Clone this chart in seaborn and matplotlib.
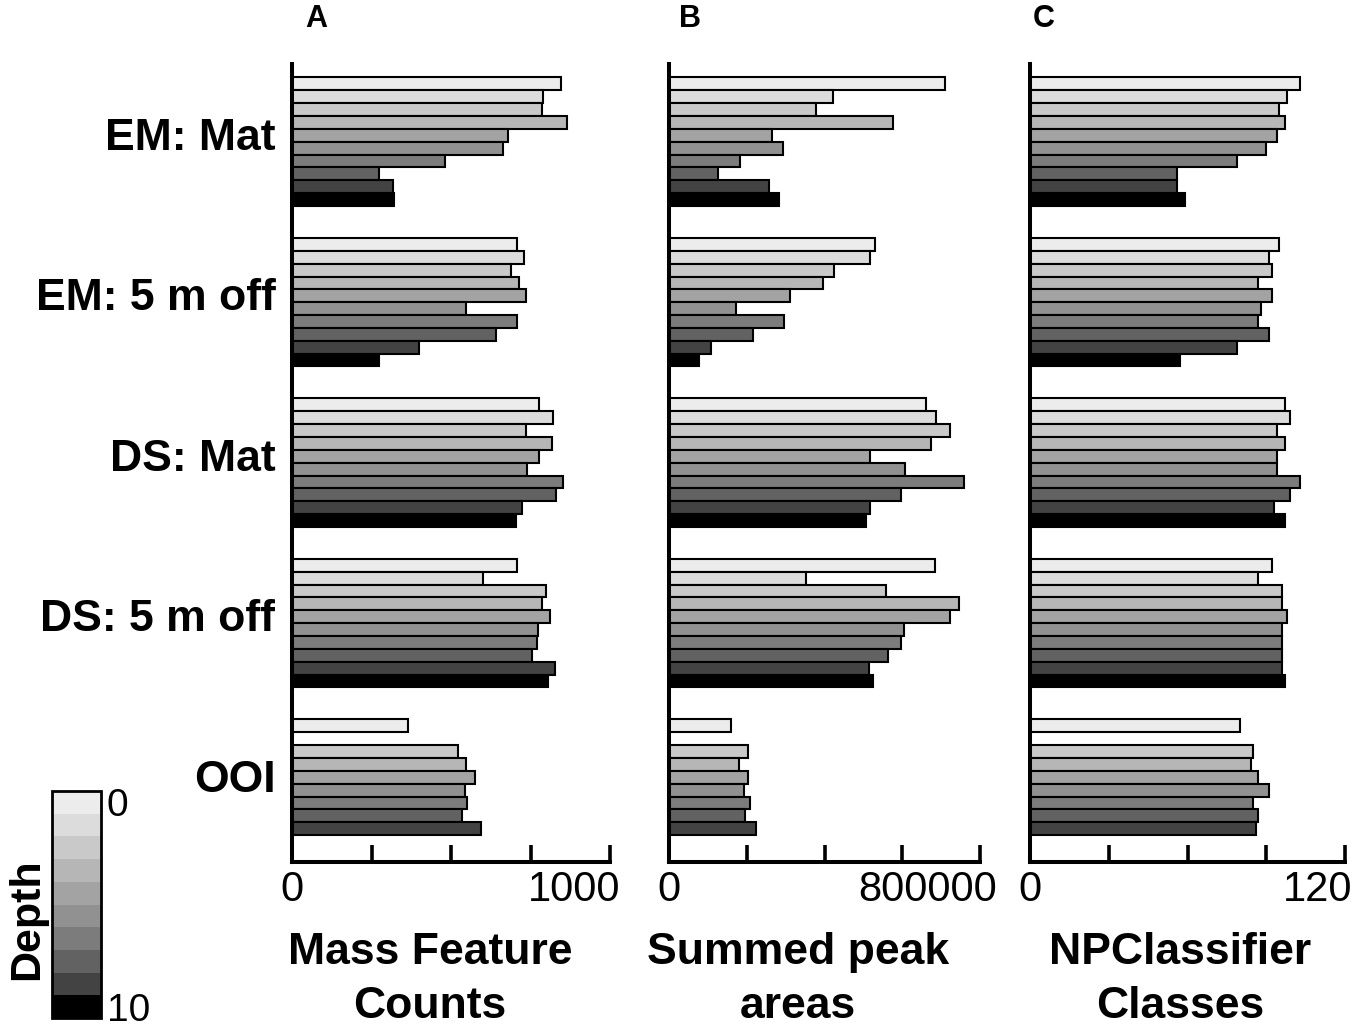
import numpy as np
import pandas as pd
import matplotlib
matplotlib.use("Agg")
import matplotlib.pyplot as plt
import matplotlib.transforms as mtransforms
from matplotlib.colors import ListedColormap, BoundaryNorm
from matplotlib.cm import ScalarMappable
import seaborn as sns

# ---------------- data ----------------
sites = ["EM: Mat", "EM: 5 m off", "DS: Mat", "DS: 5 m off", "OOI"]
depths = [f"d{i}" for i in range(10)]
depth_colors = ["#ececec", "#dcdcdc", "#c9c9c9", "#b6b6b6", "#a3a3a3",
                "#919191", "#7c7c7c", "#626262", "#434343", "#000000"]
nan = np.nan

mass_feature_counts = [
    [846, 790, 785, 865, 679, 664, 481, 274, 319, 322],
    [707, 730, 688, 714, 735, 546, 709, 641, 400, 274],
    [778, 822, 736, 817, 778, 740, 853, 829, 722, 704],
    [707, 602, 799, 785, 811, 775, 769, 756, 827, 806],
    [366, nan, 523, 546, 575, 544, 551, 534, 593, nan],
]
summed_peak_areas = [
    [709000, 421000, 379000, 576000, 266000, 292000, 183000, 125000, 256000, 282000],
    [529000, 516000, 424000, 396000, 312000, 173000, 295000, 217000, 108000, 78000],
    [660000, 688000, 723000, 675000, 518000, 608000, 759000, 597000, 516000, 507000],
    [684000, 353000, 559000, 746000, 724000, 604000, 596000, 563000, 514000, 524000],
    [160000, nan, 203000, 181000, 202000, 192000, 209000, 196000, 224000, nan],
]
npclassifier_classes = [
    [103, 98, 95, 97, 94, 90, 79, 56, 56, 59],
    [95, 91, 92, 87, 92, 88, 87, 91, 79, 57],
    [97, 99, 94, 97, 94, 94, 103, 99, 93, 97],
    [92, 87, 96, 96, 98, 96, 96, 96, 96, 97],
    [80, nan, 85, 84, 87, 91, 85, 87, 86, nan],
]

panel_letters = ["A", "B", "C"]
x_labels = ["Mass Feature\nCounts", "Summed peak\nareas", "NPClassifier\nClasses"]
x_max = [1000, 800000, 120]
x_max_labels = ["1000", "800000", "120"]
metrics = [mass_feature_counts, summed_peak_areas, npclassifier_classes]


def long_df(values):
    rows = []
    for s, row in zip(sites, values):
        for d, v in zip(depths, row):
            if not np.isnan(v):
                rows.append({"site": s, "depth": d, "value": v})
    return pd.DataFrame(rows)


# ---------------- style ----------------
sns.set_style("white")
plt.rcParams["font.family"] = ["Liberation Sans", "DejaVu Sans"]
plt.rcParams["text.color"] = "black"
plt.rcParams["axes.labelcolor"] = "black"
plt.rcParams["xtick.color"] = "black"
plt.rcParams["ytick.color"] = "black"

fig = plt.figure(figsize=(13.58, 10.30), dpi=100)

W, H = 1358, 1030
ax_left_px = [292, 669, 1030]
ax_width_px = [318, 311, 315]
ax_top_px, ax_bot_px = 64, 862
label_x = [0.434, 0.415, 0.476]
letter_x_px = [316, 690, 1044]
max_label_dx = [10, 17, 7]

for i in range(3):
    ax = fig.add_axes([ax_left_px[i] / W, 1 - ax_bot_px / H,
                       ax_width_px[i] / W, (ax_bot_px - ax_top_px) / H])
    df = long_df(metrics[i])
    sns.barplot(data=df, x="value", y="site", hue="depth", order=sites,
                hue_order=depths, palette=depth_colors, orient="h",
                edgecolor="black", linewidth=1.5, errorbar=None,
                legend=False, saturation=1, width=0.8, ax=ax)
    ax.set_xlim(0, x_max[i])
    ax.set_ylim(4.488, -0.484)
    ax.set_xticks(np.linspace(0, x_max[i], 5))
    ax.set_xticklabels(["0", "", "", "", x_max_labels[i]])
    sns.despine(ax=ax)
    for sp in ("left", "bottom"):
        ax.spines[sp].set_linewidth(2.9)
        ax.spines[sp].set_color("black")
    ax.tick_params(axis="x", bottom=True, direction="in", length=12.5, width=2.6,
                   labelsize=30, pad=6, colors="black")
    ax.tick_params(axis="y", left=False, length=0, labelsize=32, pad=12)
    ax.set_ylabel("")
    if i == 0:
        for lbl in ax.get_yticklabels():
            lbl.set_fontweight("bold")
            lbl.set_transform(lbl.get_transform() +
                              mtransforms.ScaledTranslation(0, 8 / 100,
                                                            fig.dpi_scale_trans))
    else:
        ax.tick_params(axis="y", labelleft=False)
    ax.set_xlabel(x_labels[i], fontsize=32, fontweight="bold", linespacing=1.4)
    ax.xaxis.set_label_coords(label_x[i], -0.088)
    last = ax.get_xticklabels()[-1]
    last.set_horizontalalignment("right")
    last.set_transform(last.get_transform() +
                       mtransforms.ScaledTranslation(max_label_dx[i] / 100, 0,
                                                     fig.dpi_scale_trans))
    fig.text(letter_x_px[i] / W, 1 - 19 / H, panel_letters[i], ha="center",
             va="center", fontsize=22, fontweight="bold")

# ---------------- depth colour bar ----------------
cax = fig.add_axes([52 / W, 1 - 1018 / H, 49 / W, 227 / H])
cmap = ListedColormap(depth_colors)
norm = BoundaryNorm(np.arange(11), 10)
cb = fig.colorbar(ScalarMappable(norm=norm, cmap=cmap), cax=cax,
                  drawedges=True, ticks=[0.5, 9.5])
cb.set_ticklabels(["0", "10"])
cax.minorticks_off()
cax.invert_yaxis()
cb.outline.set_linewidth(2)
cb.outline.set_edgecolor("black")
cb.dividers.set_linewidth(1.5)
cb.dividers.set_color("black")
cax.tick_params(which="both", length=0, labelsize=28, pad=4)
cb.set_label("Depth", fontsize=31, fontweight="bold")
cax.yaxis.set_label_position("left")
cax.yaxis.set_label_coords(-0.1, 0.436)

fig.savefig("out.png", dpi=100)
